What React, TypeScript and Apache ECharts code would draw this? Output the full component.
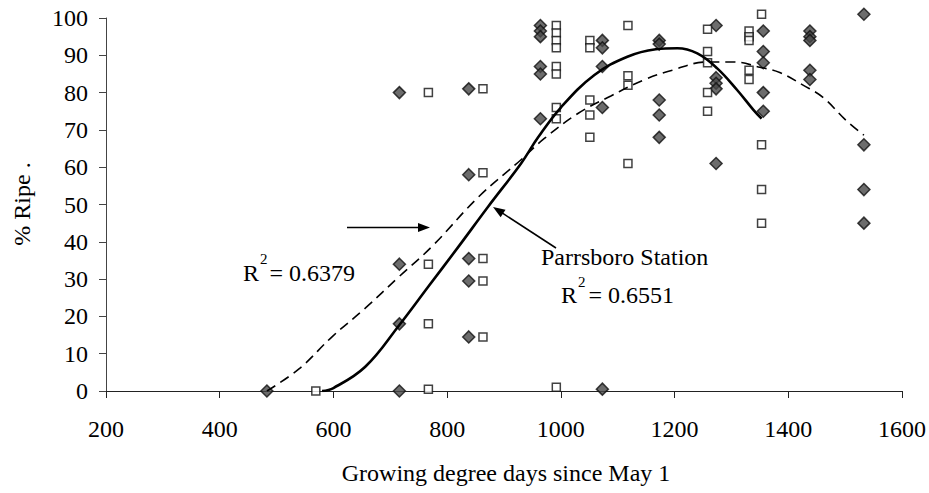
import { useEffect, useRef } from "react";
import * as echarts from "echarts";

// Axis ranges (ticks every 200 GDD and every 10 %)
const X_MIN = 200;
const X_MAX = 1600;
const X_STEP = 200;
const Y_MIN = 0;
const Y_MAX = 100;
const Y_STEP = 10;

// Filled diamonds: [growing degree days, % ripe]
const diamondPoints: [number, number][] = [
  [483, 0],
  [716, 80], [716, 34], [716, 18], [716, 0],
  [838, 81], [838, 58], [838, 35.5], [838, 29.5], [838, 14.5],
  [964, 98], [964, 96.5], [964, 95], [964, 87], [964, 85], [964, 73],
  [1073, 94], [1073, 92], [1073, 87], [1073, 76], [1073, 0.5],
  [1173, 94], [1173, 93], [1173, 78], [1173, 74], [1173, 68],
  [1273, 98], [1273, 84], [1273, 82.5], [1273, 81], [1273, 61],
  [1356, 96.5], [1356, 91], [1356, 88], [1356, 80], [1356, 75],
  [1438, 96.5], [1438, 95], [1438, 94], [1438, 86], [1438, 83.5],
  [1533, 101], [1533, 66], [1533, 54], [1533, 45],
];

// Open squares (Parrsboro Station): [growing degree days, % ripe]
const squarePoints: [number, number][] = [
  [569, 0],
  [767, 80], [767, 34], [767, 18], [767, 0.5],
  [863, 81], [863, 58.5], [863, 35.5], [863, 29.5], [863, 14.5],
  [992, 98], [992, 96], [992, 94], [992, 92], [992, 87], [992, 85], [992, 76], [992, 73], [992, 1],
  [1051, 94], [1051, 92], [1051, 78], [1051, 74], [1051, 68],
  [1118, 98], [1118, 84.5], [1118, 82], [1118, 61],
  [1258, 97], [1258, 91], [1258, 88], [1258, 80], [1258, 75],
  [1331, 96.5], [1331, 95], [1331, 94], [1331, 86], [1331, 83.5],
  [1353, 101], [1353, 66], [1353, 54], [1353, 45],
];

// Trend line for the diamonds (R² = 0.6379), dashed
const dashedTrend: [number, number][] = [
  [483, 0], [540, 6], [598, 14.6], [656, 22.2], [715, 30.6], [773, 38.7],
  [855, 52], [930, 62], [971, 67.7], [1030, 74.4], [1088, 79.1], [1146, 83.4],
  [1196, 86], [1257, 88.2], [1304, 88.2], [1350, 86.8], [1385, 85.4],
  [1426, 82], [1461, 78.7], [1502, 72.5], [1533, 68.6],
];

// Trend line for Parrsboro Station (R² = 0.6551), solid
const solidTrend: [number, number][] = [
  [580, 0], [600, 0.8], [656, 6.5], [716, 17.7], [767, 28], [820, 38.7],
  [872, 49.4], [930, 61], [960, 68], [1000, 76], [1059, 84.7], [1117, 89.6],
  [1167, 91.6], [1205, 91.9], [1240, 90.5], [1275, 86.5], [1310, 80.7],
  [1339, 75.3], [1353, 73],
];

const xTitle = "Growing degree days since May 1";
const yTitle = "% Ripe .";
const stationLabel = "Parrsboro Station";
const r2Dashed = "= 0.6379";
const r2Solid = "= 0.6551";

const FONT = "'Liberation Serif', 'Times New Roman', serif";

function txt(x: number, y: number, text: string, size: number, align = "left", extra: any = {}) {
  return {
    type: "text",
    x,
    y,
    ...extra,
    style: {
      text,
      fontFamily: FONT,
      fontSize: size,
      fill: "#000",
      textAlign: align,
      align,
      textVerticalAlign: "middle",
      verticalAlign: "middle",
    },
  };
}

function arrow(x1: number, y1: number, x2: number, y2: number) {
  const dx = x2 - x1;
  const dy = y2 - y1;
  const len = Math.sqrt(dx * dx + dy * dy);
  const ux = dx / len;
  const uy = dy / len;
  const headLen = 12;
  const halfW = 4.5;
  const bx = x2 - ux * headLen;
  const by = y2 - uy * headLen;
  return [
    {
      type: "line",
      shape: { x1, y1, x2: bx + ux * 2, y2: by + uy * 2 },
      style: { stroke: "#000", lineWidth: 1.5 },
    },
    {
      type: "polygon",
      shape: {
        points: [
          [x2, y2],
          [bx - uy * halfW, by + ux * halfW],
          [bx + uy * halfW, by - ux * halfW],
        ],
      },
      style: { fill: "#000" },
    },
  ];
}

export default function App() {
  const ref = useRef<HTMLDivElement>(null);

  useEffect(() => {
    if (!ref.current) return;
    const chart = echarts.init(ref.current, undefined, { renderer: "svg" });
    const axisLabel = {
      color: "#000",
      fontFamily: FONT,
      fontSize: 24,
      formatter: (v: number) => String(v),
    };
    chart.setOption({
      animation: false,
      backgroundColor: "#fff",
      grid: { left: 106, right: 24, top: 18, bottom: 102 },
      xAxis: {
        type: "value",
        min: X_MIN,
        max: X_MAX,
        interval: X_STEP,
        axisLine: { show: true, onZero: false, lineStyle: { color: "#222", width: 1 } },
        axisTick: { show: true, inside: false, length: 7, lineStyle: { color: "#222" } },
        axisLabel: { ...axisLabel, margin: 26 },
        splitLine: { show: false },
      },
      yAxis: {
        type: "value",
        min: Y_MIN,
        max: Y_MAX,
        interval: Y_STEP,
        axisLine: { show: true, lineStyle: { color: "#444", width: 1 } },
        axisTick: { show: true, inside: false, length: 7, lineStyle: { color: "#444" } },
        axisLabel: { ...axisLabel, margin: 18 },
        splitLine: { show: false },
      },
      series: [
        {
          type: "scatter",
          data: diamondPoints,
          symbol: "diamond",
          symbolSize: 12,
          clip: false,
          itemStyle: { color: "#474747", borderColor: "#111", borderWidth: 1.5 },
          z: 2,
        },
        {
          type: "scatter",
          data: squarePoints,
          symbol: "rect",
          symbolSize: 8,
          clip: false,
          itemStyle: { color: "#fff", borderColor: "#111", borderWidth: 1.5 },
          z: 2,
        },
        {
          type: "line",
          data: dashedTrend,
          smooth: 0.4,
          showSymbol: false,
          symbol: "none",
          lineStyle: { color: "#000", width: 1.6, type: [10, 6] },
          z: 3,
        },
        {
          type: "line",
          data: solidTrend,
          smooth: 0.4,
          showSymbol: false,
          symbol: "none",
          lineStyle: { color: "#000", width: 2.6 },
          z: 3,
        },
      ],
      graphic: [
        txt(22, 204, yTitle, 24, "center", { rotation: Math.PI / 2 }),
        txt(506, 473, xTitle, 24, "center"),
        // R² = 0.6379
        txt(243, 272.5, "R", 24),
        txt(260, 259, "2", 15),
        txt(269.5, 272.5, r2Dashed, 24),
        // Parrsboro Station, R² = 0.6551
        txt(541, 257, stationLabel, 24),
        txt(561, 294.5, "R", 24),
        txt(578, 281.5, "2", 15),
        txt(588.5, 294.5, r2Solid, 24),
        ...arrow(347, 227.5, 430, 227.5),
        ...arrow(556, 248, 493, 207),
      ],
    });
    return () => chart.dispose();
  }, []);

  return (
    <div
      ref={ref}
      style={{ position: "fixed", left: 0, top: 0, width: 929, height: 493, background: "#fff" }}
    />
  );
}
